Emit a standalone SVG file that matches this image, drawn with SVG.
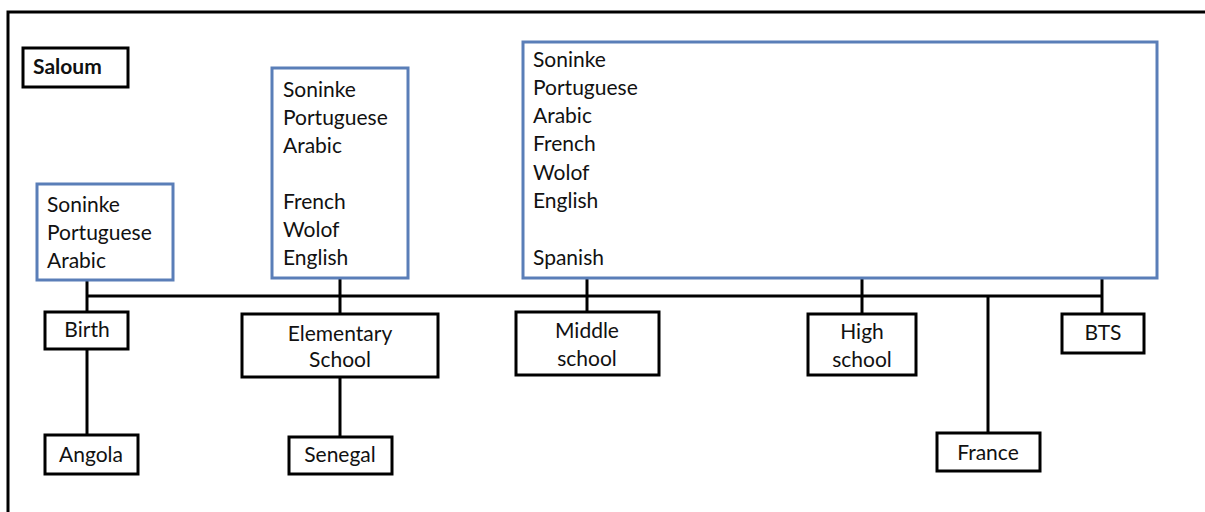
<svg xmlns="http://www.w3.org/2000/svg" width="1205" height="512" viewBox="0 0 1205 512">
<style>
.t{font-family:Lato,"Liberation Sans",sans-serif;font-size:21px;fill:#111}
.c{text-anchor:middle}
.b{fill:#fff;stroke:#000;stroke-width:3}
.bl{fill:#fff;stroke:#5a7eb8;stroke-width:3}
.ln{stroke:#000;stroke-width:3;fill:none}
</style>
<rect x="0" y="0" width="1205" height="512" fill="#fff"/>
<rect x="8" y="12" width="1220" height="530" fill="none" stroke="#000" stroke-width="3"/>
<g id="connectors">
<line class="ln" x1="87" y1="296" x2="1103" y2="296"/>
<line class="ln" x1="87" y1="280" x2="87" y2="435"/>
<line class="ln" x1="340" y1="278" x2="340" y2="437"/>
<line class="ln" x1="587" y1="278" x2="587" y2="312"/>
<line class="ln" x1="862" y1="278" x2="862" y2="314"/>
<line class="ln" x1="988" y1="296" x2="988" y2="433"/>
<line class="ln" x1="1102" y1="278" x2="1102" y2="314"/>
</g>
<g id="saloum">
<rect class="b" x="23" y="48" width="105" height="39"/>
<text class="t" x="33" y="74" font-weight="bold">Saloum</text>
</g>
<g id="lang-birth">
<rect class="bl" x="37" y="184" width="136" height="96"/>
<text class="t" x="47" y="212">Soninke</text>
<text class="t" x="47" y="240">Portuguese</text>
<text class="t" x="47" y="268">Arabic</text>
</g>
<g id="lang-elementary">
<rect class="bl" x="272" y="68" width="136" height="210"/>
<text class="t" x="283" y="97">Soninke</text>
<text class="t" x="283" y="125">Portuguese</text>
<text class="t" x="283" y="153">Arabic</text>
<text class="t" x="283" y="209">French</text>
<text class="t" x="283" y="237">Wolof</text>
<text class="t" x="283" y="265">English</text>
</g>
<g id="lang-later">
<rect class="bl" x="523" y="42" width="634" height="236"/>
<text class="t" x="533" y="67">Soninke</text>
<text class="t" x="533" y="95">Portuguese</text>
<text class="t" x="533" y="123">Arabic</text>
<text class="t" x="533" y="151">French</text>
<text class="t" x="533" y="180">Wolof</text>
<text class="t" x="533" y="208">English</text>
<text class="t" x="533" y="265">Spanish</text>
</g>
<g id="birth">
<rect class="b" x="45" y="312" width="83" height="37"/>
<text class="t c" x="87" y="337">Birth</text>
</g>
<g id="angola">
<rect class="b" x="45" y="435" width="93" height="39"/>
<text class="t c" x="91" y="462">Angola</text>
</g>
<g id="elementary">
<rect class="b" x="242" y="314" width="196" height="63"/>
<text class="t c" x="340" y="341">Elementary</text>
<text class="t c" x="340" y="367">School</text>
</g>
<g id="senegal">
<rect class="b" x="289" y="437" width="103" height="37"/>
<text class="t c" x="340" y="462">Senegal</text>
</g>
<g id="middle">
<rect class="b" x="516" y="312" width="143" height="63"/>
<text class="t c" x="587" y="338">Middle</text>
<text class="t c" x="587" y="366">school</text>
</g>
<g id="high">
<rect class="b" x="808" y="314" width="108" height="61"/>
<text class="t c" x="862" y="339">High</text>
<text class="t c" x="862" y="367">school</text>
</g>
<g id="france">
<rect class="b" x="937" y="433" width="103" height="38"/>
<text class="t c" x="988" y="460">France</text>
</g>
<g id="bts">
<rect class="b" x="1062" y="314" width="82" height="39"/>
<text class="t c" x="1103" y="340">BTS</text>
</g>
</svg>
